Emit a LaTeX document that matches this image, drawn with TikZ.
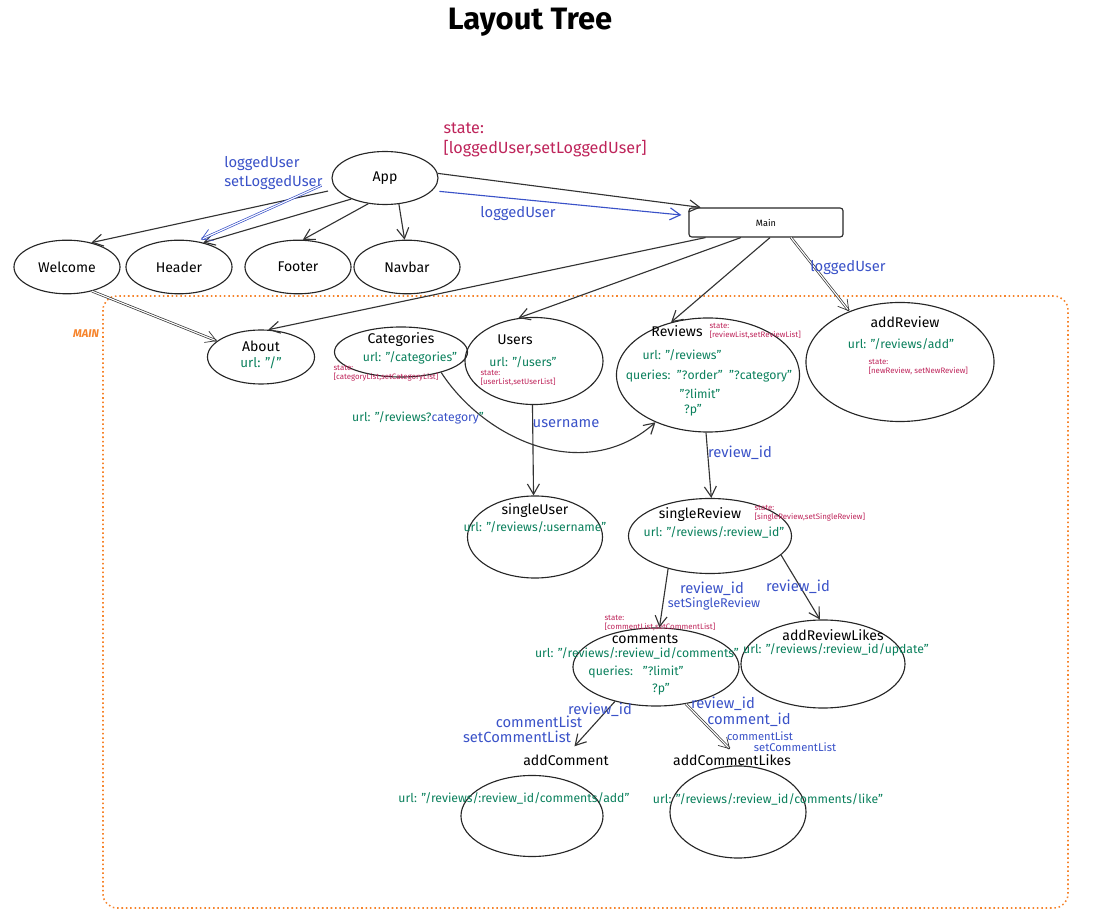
\documentclass[tikz,border=0pt]{standalone}
\usepackage{fontspec}
\setmainfont{Fira Sans}
\usetikzlibrary{arrows.meta,shapes.geometric}
\definecolor{blu}{RGB}{58,82,200}
\definecolor{grn}{RGB}{10,128,92}
\definecolor{rd}{RGB}{190,36,90}
\definecolor{org}{RGB}{246,132,44}

\begin{document}
\begin{tikzpicture}[x=0.025cm,y=-0.025cm,line width=0.8pt,>={Straight Barb[length=2.6mm,width=3mm]},
  ent/.style={ellipse,draw=black!85,inner sep=0pt},
  nm/.style={font=\fontsize{10}{12}\selectfont},
  url/.style={text=grn,font=\fontsize{8.7}{10}\selectfont},
  pass/.style={text=blu,font=\fontsize{10.5}{12}\selectfont},
  st/.style={text=rd,font=\fontsize{5.6}{6.4}\selectfont,align=left,anchor=north west,inner sep=0pt},
  link/.style={->,draw=black!80,line width=0.8pt},
  dbl/.style={link,double=white,double distance=0.8pt,line width=0.5pt}]
  \useasboundingbox (0,0) rectangle (1101,924);
  \node[font=\bfseries\fontsize{22}{26}\selectfont] (title) at (530,22) {Layout Tree};

  % MAIN frame
  \draw[org,dotted,line width=1.1pt,rounded corners=10pt] (103,296) rectangle (1068,908);
  \node[text=org,font=\bfseries\itshape\fontsize{8}{9}\selectfont] (mainLbl) at (86,334) {MAIN};

  % App and Main
  \node[ent,nm,minimum width=2.65cm,minimum height=1.325cm] (App) at (385,178) {App};
  \node[text=rd,font=\fontsize{11.5}{14}\selectfont,align=left,anchor=west,inner sep=0pt] (AppSt) at (443,140) {state:\\{}[loggedUser,setLoggedUser]};
  \node[draw=black!85,rounded corners=2pt,minimum width=3.85cm,minimum height=0.725cm,font=\fontsize{6.5}{8}\selectfont] (Main) at (766,222.5) {Main};
  \foreach \n/\x in {Welcome/67,Header/179,Footer/298,Navbar/407}
    \node[ent,nm,minimum width=2.65cm,minimum height=1.34cm] (\n) at (\x,267) {\n};

  % routes
  \node[ent,minimum width=2.675cm,minimum height=1.35cm] (About) at (261,357) {};
  \node[nm] (AboutT) at (261,346) {About};
  \node[url,font=\fontsize{9.5}{10}\selectfont] (AboutUrl) at (261,363) {url: "/"};
  \node[ent,minimum width=3.325cm,minimum height=1.25cm] (Categories) at (401,352) {};
  \node[nm] (CategoriesT) at (401,340) {Categories};
  \node[url] (CategoriesUrl) at (410,358) {url: "/categories"};
  \node[st] (CategoriesSt) at (333,365) {state:\\{}[categoryList,setCategoryList]};
  \node[ent,minimum width=3.45cm,minimum height=2.175cm] (Users) at (534,361) {};
  \node[nm] (UsersT) at (515,340) {Users};
  \node[url] (UsersUrl) at (523,362) {url: "/users"};
  \node[st] (UsersSt) at (480,370) {state:\\{}[userList,setUserList]};
  \node[ent,minimum width=4.575cm,minimum height=2.85cm] (Reviews) at (708,375) {};
  \node[nm,inner sep=1pt] (ReviewsT) at (677,331) {Reviews};
  \node[st] (ReviewsSt) at (709,323) {state:\\{}[reviewList,setReviewList]};
  \node[url] (ReviewsUrl) at (682,355) {url: "/reviews"};
  \node[url] (ReviewsQ) at (709,376) {queries:\ \ "?order"\ \ "?category"};
  \node[url] (ReviewsQ2) at (700,394) {"?limit"};
  \node[url] (ReviewsQ3) at (693,410) {?p"};
  \node[ent,minimum width=4.7cm,minimum height=2.975cm] (addReview) at (900,362) {};
  \node[nm] (addReviewT) at (905,322) {addReview};
  \node[url] (addReviewUrl) at (901,344) {url: "/reviews/add"};
  \node[st] (addReviewSt) at (868,359) {state:\\{}[newReview, setNewReview]};

  % detail pages
  \node[ent,minimum width=3.375cm,minimum height=2.05cm] (singleUser) at (535,537) {};
  \node[nm] (singleUserT) at (535,511) {singleUser};
  \node[url] (singleUserUrl) at (535,527) {url: "/reviews/:username"};
  \node[ent,minimum width=4.075cm,minimum height=1.875cm] (singleReview) at (710,536) {};
  \node[nm] (singleReviewT) at (700,515) {singleReview};
  \node[st] (singleReviewSt) at (754,505) {state:\\{}[singleReview,setSingleReview]};
  \node[url] (singleReviewUrl) at (714,532) {url: "/reviews/:review\_id"};
  \node[ent,minimum width=4.15cm,minimum height=1.95cm] (comments) at (656,667) {};
  \node[st] (commentsSt) at (604,615) {state:\\{}[commentList,setCommentList]};
  \node[nm] (commentsT) at (645,639) {comments};
  \node[url] (commentsUrl) at (637,653) {url: "/reviews/:review\_id/comments"};
  \node[url] (commentsQ) at (636,672) {queries:\ \ \ "?limit"};
  \node[url] (commentsQ2) at (661,689) {?p"};
  \node[ent,minimum width=4.1cm,minimum height=2.2cm] (addReviewLikes) at (823,664) {};
  \node[nm] (addReviewLikesT) at (833,635) {addReviewLikes};
  \node[url] (addReviewLikesUrl) at (836,650) {url: "/reviews/:review\_id/update"};
  \node[ent,minimum width=3.55cm,minimum height=2.025cm] (addComment) at (532,816) {};
  \node[nm] (addCommentT) at (566,760) {addComment};
  \node[url] (addCommentUrl) at (514,798) {url: "/reviews/:review\_id/comments/add"};
  \node[ent,minimum width=3.4cm,minimum height=2.3cm] (addCommentLikes) at (738,812) {};
  \node[nm] (addCommentLikesT) at (732,760) {addCommentLikes};
  \node[url] (addCommentLikesUrl) at (768,799) {url: "/reviews/:review\_id/comments/like"};

  % connectors
  \draw[link,shorten <=6pt] (App.193) -- (Welcome.45);
  \draw[link] (App.212) -- (Header.45);
  \draw[dbl,draw=blu,shorten <=8pt,shorten >=3pt] (App.183) -- (Header.55);
  \draw[link] (App.237) -- (Footer.80);
  \draw[link] (App.298) -- (Navbar.95);
  \draw[link] (App.5) -- (Main.167);
  \draw[link,draw=blu,shorten <=5pt,shorten >=5pt] (App.345) -- (Main.175);
  \draw[link] (Main.194) -- (About.75);
  \draw[link] (Main.211) -- (Users.110);
  \draw[link] (Main.285) -- (Reviews.125);
  \draw[dbl] (Main.329) -- (addReview.135);
  \draw[dbl] (Welcome.316) -- (About.160);
  \draw[link] (Categories.333) .. controls (485,440) and (585,485) .. (Reviews.222);
  \draw[link] (Users.268) -- (singleUser.92);
  \draw[link] (Reviews.268) -- (singleReview.88);
  \draw[link] (singleReview.218) -- (comments.85);
  \draw[link] (singleReview.345) -- (addReviewLikes.94);
  \draw[link,shorten >=3pt] (comments.220) -- (addCommentT.62);
  \draw[dbl] (comments.309) -- (addCommentLikesT.100);

  % passed props
  \node[pass,align=left,anchor=west,font=\fontsize{10.5}{14}\selectfont] (appProps) at (219,173) {loggedUser\\setLoggedUser};
  \node[pass] (mainProps) at (518,214) {loggedUser};
  \node[pass] (addReviewProps) at (848,268) {loggedUser};
  \node[url] (catQuery) at (418,418) {url: "/reviews?\textcolor{blu}{category}"};
  \node[pass] (userProps) at (566,424) {username};
  \node[pass] (reviewProps) at (740,453) {review\_id};
  \node[pass] (commentsProps) at (712,589) {review\_id};
  \node[pass,font=\fontsize{9}{10}\selectfont] (commentsProps2) at (714,604) {setSingleReview};
  \node[pass] (likesProps) at (798,587) {review\_id};
  \node[pass] (addCommentP1) at (600,710) {review\_id};
  \node[pass] (addCommentP2) at (539,722) {commentList};
  \node[pass] (addCommentP3) at (517,737) {setCommentList};
  \node[pass] (likeP1) at (723,704) {review\_id};
  \node[pass] (likeP2) at (749,720) {comment\_id};
  \node[pass,font=\fontsize{8}{9}\selectfont] (likeP3) at (760,736) {commentList};
  \node[pass,font=\fontsize{8}{9}\selectfont] (likeP4) at (795,747) {setCommentList};
\end{tikzpicture}
\end{document}
